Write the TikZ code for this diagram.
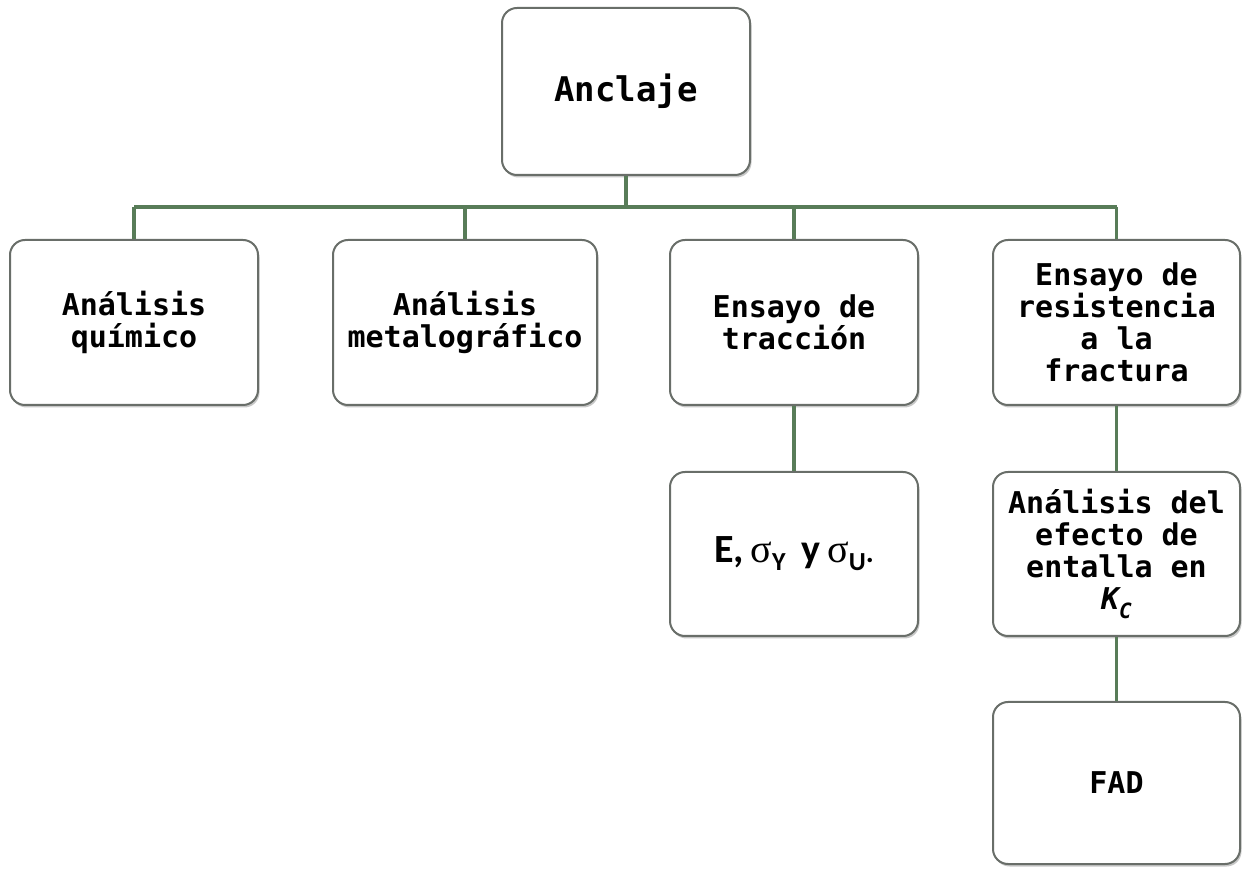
\documentclass[tikz,border=0pt]{standalone}
\usepackage{fontspec}
\newfontfamily\monof{DejaVu Sans Mono}
\newfontfamily\carl{Carlito}
\newfontfamily\sigf{Liberation Serif}
\usetikzlibrary{shadows}
\definecolor{linegreen}{RGB}{88,124,88}
\definecolor{boxgray}{RGB}{105,110,105}
\newcommand{\sgm}{{\sigf\mdseries\fontsize{40}{40}\selectfont σ}}
\tikzset{
  box/.style={draw=boxgray, line width=2pt, rounded corners=15pt, fill=white,
    minimum height=165pt, inner sep=0pt, align=center,
    font=\monof\bfseries\fontsize{30}{32}\selectfont,
    drop shadow={shadow xshift=1.5pt, shadow yshift=-2.5pt, opacity=0.22, fill=black}},
  conn/.style={draw=linegreen, line width=3.4pt}
}
\begin{document}
\begin{tikzpicture}[x=1pt,y=1pt]
\useasboundingbox (0,0) rectangle (1243,868);
\node[box, minimum width=248pt, minimum height=167pt, font=\monof\bfseries\fontsize{34}{36}\selectfont] (anc) at (626,776.5) {Anclaje};
\node[box, minimum width=248pt] (q) at (134,545.5) {Análisis\\químico};
\node[box, minimum width=264pt] (m) at (465,545.5) {Análisis\\metalográfico};
\node[box, minimum width=248pt] (t) at (794,545.5) {Ensayo de\\tracción};
\node[box, minimum width=247pt] (r) at (1116.5,545.5) {Ensayo de\\resistencia\\a la\\fractura};
\node[box, minimum width=248pt, minimum height=164pt, font=\carl\bfseries\fontsize{40}{44}\selectfont] (e) at (794,314)
  {E,\,\sgm\raisebox{-0.2em}{\fontsize{26}{26}\selectfont Y}\hspace{0.4em}y\,\sgm\raisebox{-0.2em}{\fontsize{26}{26}\selectfont U}{\fontsize{30}{30}\selectfont .}};
\node[box, minimum width=247pt, minimum height=164pt] (a) at (1116.5,314)
  {Análisis del\\efecto de\\entalla en\\{\itshape K\raisebox{-0.3em}{\fontsize{21}{21}\selectfont C}}};
\node[box, minimum width=247pt, minimum height=162pt] (fad) at (1116.5,85) {FAD};
\coordinate (bus) at (0,661);
\draw[conn] (anc.south) -- (anc.south |- bus);
\draw[conn] (q.north |- bus) -- (r.north |- bus);
\draw[conn] (q.north |- bus) -- (q.north);
\draw[conn] (m.north |- bus) -- (m.north);
\draw[conn] (t.north |- bus) -- (t.north);
\draw[conn] (r.north |- bus) -- (r.north);
\draw[conn] (t.south) -- (e.north);
\draw[conn] (r.south) -- (a.north);
\draw[conn] (a.south) -- (fad.north);
\end{tikzpicture}
\end{document}
